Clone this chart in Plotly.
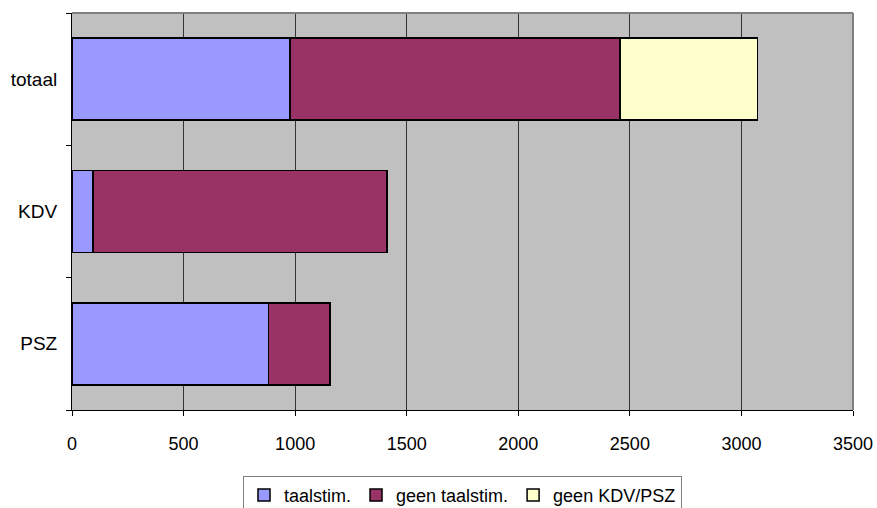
import plotly.graph_objects as go

categories = ["PSZ", "KDV", "totaal"]
taalstim = [881, 95, 977]
geen_taalstim = [275, 1317, 1478]
geen_kdv_psz = [0, 0, 618]

series = [
    ("taalstim.", taalstim, "#9999FF"),
    ("geen taalstim.", geen_taalstim, "#993366"),
    ("geen KDV/PSZ", geen_kdv_psz, "#FFFFCC"),
]

fig = go.Figure()
for name, vals, col in series:
    fig.add_trace(go.Bar(
        y=categories, x=vals, name=name, orientation="h",
        marker=dict(color=col, line=dict(color="#000000", width=1.5)),
    ))

font = dict(family="Liberation Sans, Arial, sans-serif", size=19, color="#000000")
xfont = dict(family="Liberation Sans, Arial, sans-serif", size=18, color="#000000")
lfont = dict(family="Liberation Sans, Arial, sans-serif", size=18, color="#000000")

fig.update_layout(
    width=877, height=508, autosize=False,
    barmode="stack", bargap=0.38,
    margin=dict(l=72, r=24, t=13, b=98, autoexpand=False),
    paper_bgcolor="#FFFFFF", plot_bgcolor="#C0C0C0",
    font=font,
    showlegend=True,
    legend=dict(
        orientation="h", x=0.5, y=-0.166, xanchor="center", yanchor="top",
        bgcolor="#FFFFFF", bordercolor="#808080", borderwidth=1,
        font=lfont, traceorder="normal", itemwidth=30,
        tracegroupgap=0,
    ),
    xaxis=dict(
        range=[0, 3500], dtick=500, tick0=0,
        showgrid=True, gridcolor="#333333", gridwidth=1,
        showline=True, linecolor="#000000", linewidth=1,
        ticks="outside", ticklen=5, tickcolor="#000000",
        ticklabelstandoff=12, zeroline=False, fixedrange=True,
        automargin=False, tickfont=xfont,
    ),
    yaxis=dict(
        categoryorder="array", categoryarray=categories,
        showgrid=False, showline=True, linecolor="#000000", linewidth=1,
        ticks="outside", ticklen=5, tickcolor="#000000", tickson="boundaries",
        ticklabelstandoff=10, fixedrange=True, automargin=False,
    ),
    shapes=[
        dict(type="line", xref="paper", yref="paper", x0=0, x1=1, y0=1, y1=1,
             line=dict(color="#808080", width=2), layer="above"),
        dict(type="line", xref="paper", yref="paper", x0=1, x1=1, y0=0, y1=1,
             line=dict(color="#808080", width=2), layer="above"),
    ],
)

fig.write_html(
    "out.html",
    config={"displayModeBar": False},
    post_script="document.body.style.margin='0';"
                "document.body.style.overflow='hidden';"
                "document.documentElement.style.overflow='hidden';",
)
